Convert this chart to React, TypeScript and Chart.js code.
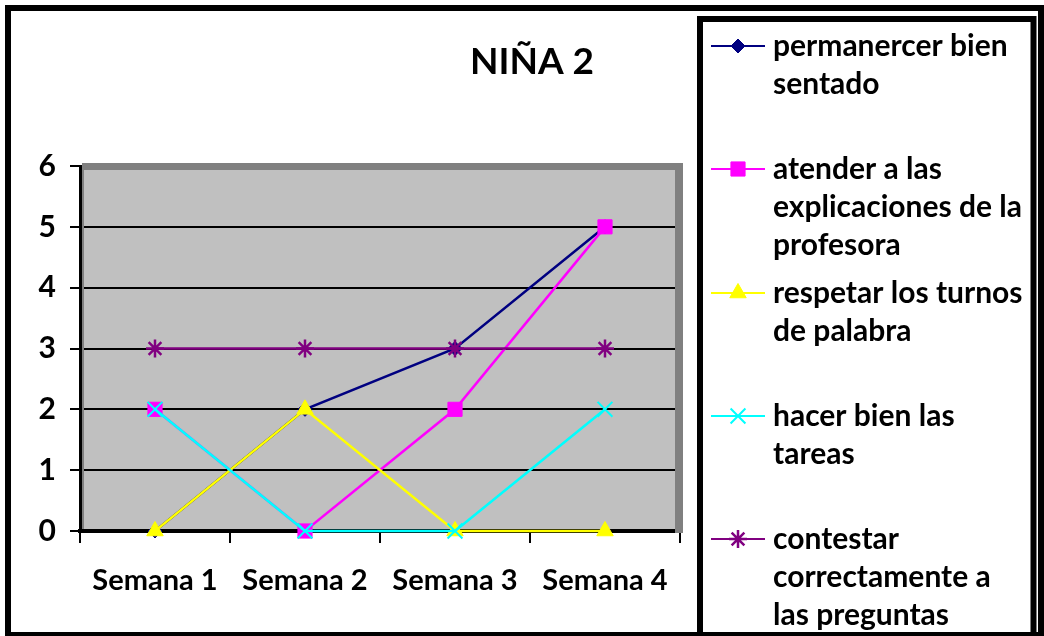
import React, { useEffect, useRef } from "react";
import { Chart, registerables } from "chart.js";

Chart.register(...registerables);

const title = "NIÑA 2";
const categories = ["Semana 1", "Semana 2", "Semana 3", "Semana 4"];
const permanecer = [0, 2, 3, 5];
const atender = [2, 0, 2, 5];
const respetar = [0, 2, 0, 0];
const hacer = [2, 0, 0, 2];
const contestar = [3, 3, 3, 3];
const legendLabels = [
  ["permanercer bien", "sentado"],
  ["atender a las", "explicaciones de la", "profesora"],
  ["respetar los turnos", "de palabra"],
  ["hacer bien las", "tareas"],
  ["contestar", "correctamente a", "las preguntas"],
];
const yMin = 0;
const yMax = 6;
const yStep = 1;

const FONT = "Lato, 'Open Sans', sans-serif";

type SeriesStyle = { color: string; style: string; radius: number; bw: number };
const styles: SeriesStyle[] = [
  { color: "#000080", style: "rectRot", radius: 7, bw: 1 },
  { color: "#FF00FF", style: "rect", radius: 10, bw: 1 },
  { color: "#FFFF00", style: "triangle", radius: 9.5, bw: 1 },
  { color: "#00FFFF", style: "crossRot", radius: 10.5, bw: 2 },
  { color: "#800080", style: "star", radius: 9, bw: 2.5 },
];

function drawMarker(ctx: CanvasRenderingContext2D, s: SeriesStyle, x: number, y: number) {
  const r = s.radius;
  ctx.save();
  ctx.fillStyle = s.color;
  ctx.strokeStyle = s.color;
  ctx.lineWidth = s.bw;
  ctx.beginPath();
  if (s.style === "rectRot") {
    ctx.moveTo(x - r, y);
    ctx.lineTo(x, y - r);
    ctx.lineTo(x + r, y);
    ctx.lineTo(x, y + r);
    ctx.closePath();
    ctx.fill();
    ctx.stroke();
  } else if (s.style === "rect") {
    const h = r * Math.SQRT1_2;
    ctx.rect(x - h, y - h, 2 * h, 2 * h);
    ctx.fill();
    ctx.stroke();
  } else if (s.style === "triangle") {
    const xo = Math.cos(Math.PI / 6) * r;
    ctx.moveTo(x - xo, y + r / 2);
    ctx.lineTo(x + xo, y + r / 2);
    ctx.lineTo(x, y - r);
    ctx.closePath();
    ctx.fill();
    ctx.stroke();
  } else if (s.style === "crossRot") {
    const h = r * Math.SQRT1_2;
    ctx.moveTo(x - h, y - h);
    ctx.lineTo(x + h, y + h);
    ctx.moveTo(x - h, y + h);
    ctx.lineTo(x + h, y - h);
    ctx.stroke();
  } else if (s.style === "star") {
    const h = r * Math.SQRT1_2;
    ctx.moveTo(x - h, y - h);
    ctx.lineTo(x + h, y + h);
    ctx.moveTo(x - h, y + h);
    ctx.lineTo(x + h, y - h);
    ctx.moveTo(x, y - r);
    ctx.lineTo(x, y + r);
    ctx.moveTo(x - r, y);
    ctx.lineTo(x + r, y);
    ctx.stroke();
  }
  ctx.restore();
}

const decorPlugin = {
  id: "decor",
  beforeDraw(chart: any) {
    const { ctx, chartArea: a } = chart;
    ctx.save();
    ctx.fillStyle = "#ffffff";
    ctx.fillRect(0, 0, chart.width, chart.height);
    ctx.fillStyle = "#C0C0C0";
    ctx.fillRect(a.left, a.top, a.right - a.left, a.bottom - a.top);
    ctx.restore();
  },
  beforeDatasetsDraw(chart: any) {
    const { ctx, chartArea: a } = chart;
    ctx.save();
    ctx.fillStyle = "#808080";
    ctx.fillRect(a.left + 2, a.top - 3, a.right - a.left + 1, 7);
    ctx.fillRect(a.right - 5, a.top - 3, 8, a.bottom - a.top + 5);
    ctx.fillRect(a.left + 2, a.top + 4, 2, a.bottom - a.top - 6);
    ctx.restore();
  },
  afterDraw(chart: any) {
    const { ctx } = chart;
    ctx.save();
    ctx.fillStyle = "#000";
    ctx.font = `bold 37px ${FONT}`;
    ctx.textAlign = "center";
    ctx.textBaseline = "middle";
    ctx.fillText(title, 532, 62);

    ctx.strokeStyle = "#000";
    ctx.lineWidth = 6;
    ctx.beginPath();
    ctx.rect(700, 19, 333.5, 640);
    ctx.stroke();

    ctx.font = `bold 30px ${FONT}`;
    ctx.textAlign = "left";
    const rowTop = [46, 169, 293, 416, 539];
    const lineGap = 38;
    legendLabels.forEach((lines, i) => {
      const s = styles[i];
      const y = rowTop[i];
      ctx.strokeStyle = s.color;
      ctx.lineWidth = 2;
      ctx.beginPath();
      ctx.moveTo(711, y);
      ctx.lineTo(765, y);
      ctx.stroke();
      drawMarker(ctx, s, 738, y);
      ctx.fillStyle = "#000";
      lines.forEach((t, j) => ctx.fillText(t, 773, y + j * lineGap));
    });

    ctx.strokeStyle = "#000";
    ctx.lineWidth = 6;
    ctx.strokeRect(8, 8, 1033, 627);
    ctx.restore();
  },
};

export default function App() {
  const ref = useRef<HTMLCanvasElement | null>(null);
  useEffect(() => {
    document.body.style.margin = "0";
    const series = [permanecer, atender, respetar, hacer, contestar];
    const chart = new Chart(ref.current as HTMLCanvasElement, {
      type: "line",
      data: {
        labels: categories,
        datasets: series.map((d, i) => ({
          label: legendLabels[i].join(" "),
          data: d,
          borderColor: styles[i].color,
          backgroundColor: styles[i].color,
          pointBackgroundColor: styles[i].color,
          pointBorderColor: styles[i].color,
          pointStyle: styles[i].style as any,
          pointRadius: styles[i].radius,
          pointBorderWidth: styles[i].bw,
          borderWidth: 2.5,
          tension: 0,
          fill: false,
          order: series.length - i,
          clip: false as any,
        })),
      },
      options: {
        responsive: false,
        animation: false,
        events: [],
        devicePixelRatio: 1,
        layout: { padding: { top: 166, right: 364, left: 0, bottom: 0 } },
        plugins: {
          legend: { display: false },
          title: { display: false },
          tooltip: { enabled: false },
        },
        scales: {
          x: {
            type: "category",
            offset: true,
            grid: {
              offset: true,
              drawOnChartArea: false,
              drawTicks: true,
              tickLength: 12,
              color: "#000",
              lineWidth: 2,
            },
            border: { display: true, color: "#000", width: 4 },
            ticks: {
              color: "#000",
              font: { family: FONT, size: 29, weight: "bold" },
              padding: 20,
              maxRotation: 0,
              autoSkip: false,
            },
            afterFit: (s: any) => {
              s.height = 105;
            },
          },
          y: {
            min: yMin,
            max: yMax,
            ticks: {
              stepSize: yStep,
              color: "#000",
              font: { family: FONT, size: 30, weight: "bold" },
              padding: 14,
            },
            grid: {
              color: "#000",
              lineWidth: 2,
              tickLength: 10,
              drawTicks: true,
            },
            border: { display: true, color: "#000", width: 3 },
            afterFit: (s: any) => {
              s.width = 80;
            },
          },
        },
      },
      plugins: [decorPlugin],
    } as any);
    return () => chart.destroy();
  }, []);
  return (
    <div style={{ position: "absolute", left: 0, top: 0, width: 1044, height: 636 }}>
      <canvas ref={ref} width={1044} height={636} style={{ width: 1044, height: 636 }} />
    </div>
  );
}
